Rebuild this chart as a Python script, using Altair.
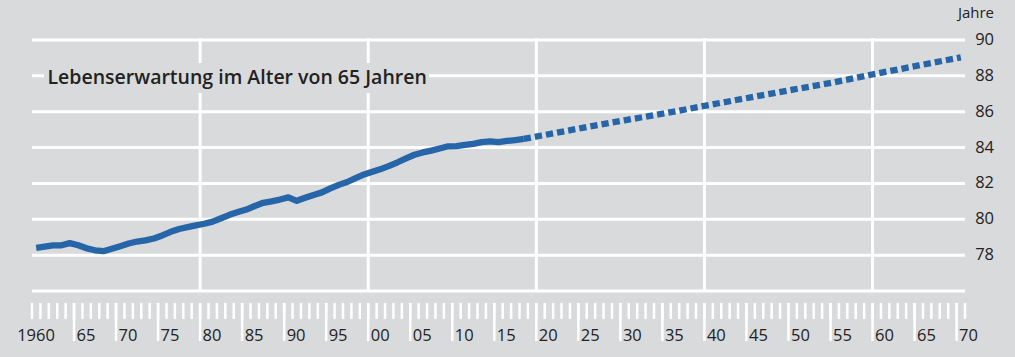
import altair as alt
import pandas as pd

# ---- data ----
hist_years = list(range(1960, 2019))
hist_values = [78.41, 78.48, 78.54, 78.55, 78.67, 78.55, 78.38, 78.27, 78.22, 78.36,
               78.50, 78.65, 78.76, 78.82, 78.93, 79.10, 79.30, 79.46, 79.56, 79.66,
               79.75, 79.87, 80.06, 80.25, 80.40, 80.54, 80.74, 80.92, 81.00, 81.10,
               81.22, 81.03, 81.20, 81.36, 81.50, 81.72, 81.92, 82.08, 82.30, 82.50,
               82.65, 82.80, 82.98, 83.18, 83.40, 83.60, 83.73, 83.83, 83.95, 84.07,
               84.08, 84.15, 84.21, 84.30, 84.34, 84.30, 84.37, 84.42, 84.48]
proj_years = [2018, 2020, 2025, 2030, 2035, 2040, 2045, 2050, 2055, 2060, 2065, 2070]
proj_values = [84.48, 84.66, 85.10, 85.52, 85.93, 86.37, 86.80, 87.23, 87.65, 88.13, 88.58, 89.03]

y_grid = [76, 78, 80, 82, 84, 86, 88, 90]
y_labels = [78, 80, 82, 84, 86, 88, 90]
x_grid = [1980, 2000, 2020, 2040, 2060]
tick_years = list(range(1960, 2072))
major_years = list(range(1965, 2071, 5))
label_years = list(range(1960, 2071, 5))
label_texts = ["1960", "65", "70", "75", "80", "85", "90", "95", "00", "05", "10", "15",
               "20", "25", "30", "35", "40", "45", "50", "55", "60", "65", "70"]
title_text = "Lebenserwartung im Alter von 65 Jahren"
unit_text = "Jahre"

W, H = 933, 251
BG = "#d9dadb"
BLUE = "#2565a8"
TXT = "#222222"
FONT = "Open Sans"

xs = alt.Scale(domain=[1960, 2071], range=[0, W], nice=False, zero=False)
ys = alt.Scale(domain=[76, 90], range=[H, 0], nice=False, zero=False)

hist = pd.DataFrame({"year": hist_years, "value": hist_values})
proj = pd.DataFrame({"year": proj_years, "value": proj_values})

hgrid = alt.Chart(pd.DataFrame({"v": y_grid})).mark_rule(color="white", strokeWidth=3).encode(
    y=alt.Y("v:Q", scale=ys, axis=None), x=alt.value(0), x2=alt.value(W))

vgrid = alt.Chart(pd.DataFrame({"yr": x_grid})).mark_rule(color="white", strokeWidth=3).encode(
    x=alt.X("yr:Q", scale=xs, axis=None), y=alt.value(-2), y2=alt.value(H + 1))

title_box = alt.Chart(pd.DataFrame({"t": [title_text]})).mark_rect(color=BG).encode(
    x=alt.value(12), x2=alt.value(397), y=alt.value(23), y2=alt.value(53))

title = alt.Chart(pd.DataFrame({"t": [title_text]})).mark_text(
    align="left", baseline="alphabetic", font=FONT, fontSize=19.5, fontWeight=600, color=TXT
).encode(text="t:N", x=alt.value(15.5), y=alt.value(44))

line_hist = alt.Chart(hist).transform_calculate(xp="datum.year + 0.5").mark_line(
    color=BLUE, strokeWidth=6.3, strokeCap="butt", strokeJoin="round"
).encode(x=alt.X("xp:Q", scale=xs, axis=None), y=alt.Y("value:Q", scale=ys, axis=None))

line_proj = alt.Chart(proj).transform_calculate(xp="datum.year + 0.5").mark_line(
    color=BLUE, strokeWidth=6.3, strokeCap="butt", strokeDash=[7.3, 4]
).encode(x=alt.X("xp:Q", scale=xs, axis=None), y=alt.Y("value:Q", scale=ys, axis=None))

minor_ticks = alt.Chart(pd.DataFrame({"yr": tick_years})).mark_rule(color="white", strokeWidth=2.5).encode(
    x=alt.X("yr:Q", scale=xs, axis=None), y=alt.value(H + 12), y2=alt.value(H + 28))

major_ticks = alt.Chart(pd.DataFrame({"yr": major_years})).mark_rule(color="white", strokeWidth=2.5).encode(
    x=alt.X("yr:Q", scale=xs, axis=None), y=alt.value(H + 12), y2=alt.value(H + 50))

lab_df = pd.DataFrame({"yr": label_years, "lab": label_texts})
x_labels_first = alt.Chart(lab_df.iloc[:1]).mark_text(
    align="center", baseline="middle", font=FONT, fontSize=16.5, color=TXT, dx=4
).encode(x=alt.X("yr:Q", scale=xs, axis=None), y=alt.value(H + 44.5), text="lab:N")
x_labels_rest = alt.Chart(lab_df.iloc[1:]).mark_text(
    align="left", baseline="middle", font=FONT, fontSize=16.5, color=TXT, dx=2.5
).encode(x=alt.X("yr:Q", scale=xs, axis=None), y=alt.value(H + 44.5), text="lab:N")

y_lab = alt.Chart(pd.DataFrame({"v": y_labels})).mark_text(
    align="right", baseline="middle", font=FONT, fontSize=16.5, color=TXT
).encode(y=alt.Y("v:Q", scale=ys, axis=None), x=alt.value(W + 29), text=alt.Text("v:Q"))

unit = alt.Chart(pd.DataFrame({"t": [unit_text]})).mark_text(
    align="right", baseline="middle", font=FONT, fontSize=15, color=TXT
).encode(x=alt.value(W + 29), y=alt.value(-27.5), text="t:N")

chart = alt.layer(
    hgrid, vgrid, title_box, title, minor_ticks, major_ticks,
    x_labels_first, x_labels_rest, y_lab, unit, line_hist, line_proj
).properties(
    width=W, height=H, background=BG,
    padding={"left": 32, "top": 40, "right": 50, "bottom": 66},
    autosize=alt.AutoSizeParams(type="none")
).configure_view(stroke=None, fill=BG)

chart.save("out.html", embed_options={"renderer": "svg", "actions": False})
